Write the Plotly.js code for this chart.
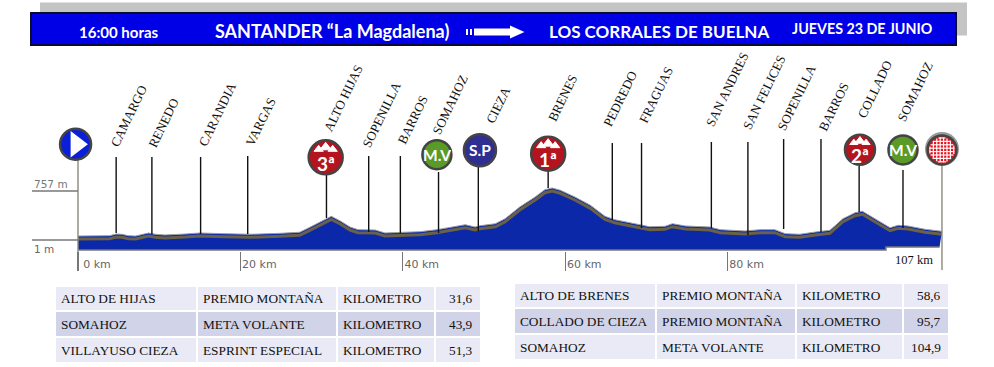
<!DOCTYPE html>
<html><head><meta charset="utf-8">
<script src="https://cdn.plot.ly/plotly-3.0.1.min.js"></script>
<style>html,body{margin:0;padding:0;background:#fff;overflow:hidden}#c{width:994px;height:367px}</style>
</head><body><div id="c"></div>
<script>
// ---------- data ----------
const profileKm = [0,2.7,3.9,4.7,5.4,6.2,7.1,8.0,8.7,9.5,10.7,13.2,15.0,18.1,21.2,24.9,27.3,28.3,29.4,30.4,31.2,32.3,33.5,34.5,36.6,37.8,39.7,42.1,44.2,45.8,47.7,48.9,49.5,51.4,52.6,54.4,56.3,57.5,58.4,59.4,61.2,63.1,64.9,66.1,68.0,69.8,70.4,72.3,73.2,74.8,77.8,79.1,82.1,84.0,85.8,87.1,88.9,90.8,92.6,94.2,95.7,96.6,98.2,100.0,101.0,102.2,104.3,106.4];
const profileM = [16,12,21,47,43,21,16,43,63,43,32,47,63,52,43,58,74,135,206,279,320,248,155,114,109,63,70,83,114,144,191,155,175,206,283,464,618,731,757,722,618,490,320,268,222,171,160,166,206,171,155,114,94,114,114,52,43,78,104,283,376,398,283,144,182,171,120,89];
const floorKm = [0,99.5,99.5,106.1];
const floorM = [-200,-200,-153,-153];
const townNames = ["CAMARGO","RENEDO","CARANDIA","VARGAS","ALTO HIJAS","SOPENILLA","BARROS","SOMAHOZ","CIEZA","BRENES","PEDREDO","FRAGUAS","SAN ANDRES","SAN FELICES","SOPENILLA","BARROS","COLLADO","SOMAHOZ"];
const townKm = [4.7,9.1,15.1,20.9,30.6,35.8,39.7,44.4,49.3,57.9,65.8,69.4,78.0,82.5,86.9,91.5,96.2,101.6];
const townTopM = [1282,1282,1282,1297,1004,1297,1297,1050,1143,1081,1498,1498,1513,1513,1559,1559,1143,1081];
const townFootM = [109,94,94,94,340,124,109,109,140,803,310,186,186,78,171,124,433,186];
const badgeKm = [-0.3,30.5,44.2,49.5,57.9,96.3,101.6,106.4];
const badgeM = [1478,1277,1317,1385,1333,1394,1390,1390];
const badgeText = ["","3ª","M.V","S.P","1ª","2ª","M.V",""];
const kmTicks = [0,20,40,60,80];
const kmLabels = ["0 km","20 km","40 km","60 km","80 km"];
const altLabels = ["1 m","757 m"];
const table1 = [
  ["ALTO DE HIJAS","PREMIO MONTAÑA","KILOMETRO","31,6"],
  ["SOMAHOZ","META VOLANTE","KILOMETRO","43,9"],
  ["VILLAYUSO CIEZA","ESPRINT ESPECIAL","KILOMETRO","51,3"]];
const table2 = [
  ["ALTO DE BRENES","PREMIO MONTAÑA","KILOMETRO","58,6"],
  ["COLLADO DE CIEZA","PREMIO MONTAÑA","KILOMETRO","95,7"],
  ["SOMAHOZ","META VOLANTE","KILOMETRO","104,9"]];

// ---------- page geometry ----------
const W = 994, H = 367;
const X0 = 78, PXKM = 8.12, Y0 = 240, MPX = 15.43;
const pxX = p => (p - X0) / PXKM;
const pxY = p => 1 + (Y0 - p) * MPX;
const nx = p => p / W, ny = p => 1 - p / H;
const SERIF = '"Liberation Serif", serif', SANS = 'Lato, "Open Sans", sans-serif';
const BLUE = '#0A28A8';

// ---------- traces ----------
const stemX = [], stemY = [];
townKm.forEach((k, i) => { stemX.push(k, k, null); stemY.push(townTopM[i], townFootM[i], null); });
const discColor = ['#0A1FD8','#B3141E','#5A9A28','#2E2F90','#B3141E','#B3141E','#5A9A28','#E8101E'];
const discSize = [31,34,29,32,34,30,29,29];
const base = {hoverinfo:'skip', showlegend:false};
const traces = [
  {...base, x: floorKm, y: floorM, mode:'lines', line:{color:'#777', width:1.5}},
  {...base, x: profileKm, y: profileM, mode:'lines', fill:'tonexty', fillcolor:BLUE, line:{color:'#A0A0A0', width:1}},
  {...base, x: profileKm, y: profileM, yaxis:'y2', mode:'lines', line:{color:'#6B6048', width:3}},
  {...base, x: stemX, y: stemY, yaxis:'y2', mode:'lines', line:{color:'#111', width:1.4}, connectgaps:false},
  {...base, x:[0,0,null,106.4,106.4], y:[pxY(160),pxY(270),null,pxY(160),pxY(270)], yaxis:'y2', mode:'lines', line:{color:'#8A8A80', width:1.4}},
  {...base, x:[106.4], y:[pxY(149)], yaxis:'y2', mode:'markers', marker:{size:34, color:'#999', opacity:1}},
  {...base, x: badgeKm, y: badgeM, yaxis:'y2', mode:'markers', marker:{size:discSize, color:discColor, opacity:1, line:{color:'#444', width:2.5}}},
  {...base, x:[badgeKm[0]+0.1], y:[badgeM[0]], yaxis:'y2', mode:'markers', marker:{symbol:'triangle-right', size:23, color:'#fff', opacity:1}}
];
// peak glyphs for the mountain badges
const peakX = [], peakY = [], peakS = [];
[1,4,5].forEach(i => {
  const bx = X0 + badgeKm[i]*PXKM, by = Y0 - (badgeM[i]-1)/MPX, k = i==5 ? 0.87 : 1;
  [[-7,-8,7],[0,-10,9],[7,-8,7]].forEach(o => { peakX.push(pxX(bx+o[0]*k)); peakY.push(pxY(by+o[1]*k)); peakS.push(o[2]*k+1); });
});
traces.push({...base, x:peakX, y:peakY, yaxis:'y2', mode:'markers', marker:{symbol:'triangle-up', size:peakS, color:'#fff', opacity:1}});

// ---------- layout ----------
const shapes = [
  {type:'rect',xref:'paper',yref:'paper',x0:nx(40),x1:nx(967),y0:ny(35.5),y1:ny(2.5),fillcolor:'#C4C4C4',line:{width:0},layer:'below'},
  {type:'rect',xref:'paper',yref:'paper',x0:nx(31),x1:nx(956),y0:ny(45),y1:ny(13),fillcolor:'#0000E6',line:{color:'#0A0A30',width:2},layer:'below'},
  {type:'rect',xref:'paper',yref:'paper',x0:nx(466),x1:nx(468),y0:ny(35),y1:ny(29),fillcolor:'#fff',line:{width:0}},
  {type:'rect',xref:'paper',yref:'paper',x0:nx(470),x1:nx(472),y0:ny(35),y1:ny(29),fillcolor:'#fff',line:{width:0}},
  {type:'rect',xref:'paper',yref:'paper',x0:nx(474),x1:nx(511),y0:ny(35.5),y1:ny(28.5),fillcolor:'#fff',line:{width:0}},
  {type:'path',xref:'paper',yref:'paper',path:`M ${nx(510)} ${ny(25.5)} L ${nx(524.5)} ${ny(32)} L ${nx(510)} ${ny(38.5)} Z`,fillcolor:'#fff',line:{width:0}},
  {type:'line',xref:'paper',yref:'paper',x0:nx(32),x1:nx(78),y0:ny(191),y1:ny(191),line:{color:'#777',width:1.3}},
  {type:'line',xref:'paper',yref:'paper',x0:nx(32),x1:nx(78),y0:ny(240),y1:ny(240),line:{color:'#777',width:1.3}}
];
// chequered finish badge
const fx = X0 + badgeKm[7]*PXKM, fy = Y0 - (badgeM[7]-1)/MPX, fr = 12.5;
for (let d = -12; d <= 12; d += 3.4) {
  const c = Math.sqrt(Math.max(0, fr*fr - d*d));
  shapes.push({type:'line',xref:'paper',yref:'paper',x0:nx(fx-c),x1:nx(fx+c),y0:ny(fy+d),y1:ny(fy+d),line:{color:'#fff',width:1.2}});
  shapes.push({type:'line',xref:'paper',yref:'paper',x0:nx(fx+d),x1:nx(fx+d),y0:ny(fy-c),y1:ny(fy+c),line:{color:'#fff',width:1.2}});
}

const labelAt = [[106,151],[144,151],[194,150],[241,149],[319,135],[358,151],[393,147],[428,138],[482,127],[544,125],[599,130],[635,127],[702,130],[739,133],[773,134],[814,134],[853,122],[893,125]];
const annotations = townNames.map((t,i)=>({
  text:t, xref:'paper', yref:'paper', x:nx(labelAt[i][0]), y:ny(labelAt[i][1]),
  xanchor:'left', yanchor:'bottom', textangle:-64, showarrow:false, borderpad:0,
  font:{family:SERIF,size:13,color:'#111'}
}));
function hdr(text,x,y,size){ annotations.push({text:text,xref:'paper',yref:'paper',x:nx(x),y:ny(y),xanchor:'left',yanchor:'middle',showarrow:false,borderpad:0,font:{family:SANS,size:size,color:'#fff',weight:700}}); }
hdr('16:00 horas',78,32,15);
hdr('SANTANDER “La Magdalena)',214,31.5,18);
hdr('LOS CORRALES DE BUELNA',548,31.5,17);
hdr('JUEVES 23 DE JUNIO',791,29,14.3);
badgeText.forEach((t,i)=>{ if(!t) return; const peak=t.includes('ª');
  annotations.push({text:t,xref:'x',yref:'y2',x:badgeKm[i],y:badgeM[i],yshift:peak?-6:0,showarrow:false,borderpad:0,font:{family:SANS,size:peak?19:15.5,color:'#fff',weight:700}});
});
annotations.push({text:altLabels[1],xref:'paper',yref:'paper',x:nx(33),y:ny(184),xanchor:'left',yanchor:'middle',showarrow:false,borderpad:0,font:{family:'"DejaVu Sans"',size:10.5,color:'#777'}});
annotations.push({text:altLabels[0],xref:'paper',yref:'paper',x:nx(33),y:ny(249),xanchor:'left',yanchor:'middle',showarrow:false,borderpad:0,font:{family:'"DejaVu Sans"',size:10.5,color:'#666'}});
annotations.push({text:'107 km',xref:'paper',yref:'paper',x:nx(894),y:ny(260),xanchor:'left',yanchor:'middle',showarrow:false,borderpad:0,font:{family:SERIF,size:12.5,color:'#111'}});

// tables: cells drawn from the table arrays
function drawTable(rows, cols, rowBox) {
  rows.forEach((row,r)=>{
    row.forEach((txt,c)=>{
      shapes.push({type:'rect',xref:'paper',yref:'paper',layer:'below',line:{width:0},
        x0:nx(cols[c][0]),x1:nx(cols[c][1]),y0:ny(rowBox[r][1]),y1:ny(rowBox[r][0]),
        fillcolor: r==1 ? '#D1D3E8' : '#E9EAF5'});
      const right = c==3;
      annotations.push({text:txt,xref:'paper',yref:'paper',showarrow:false,borderpad:0,
        x:nx(right?cols[c][1]-6:cols[c][0]+3.5),y:ny((rowBox[r][0]+rowBox[r][1])/2),
        xanchor:right?'right':'left',yanchor:'middle',font:{family:SERIF,size:13.3,color:'#111'}});
    });
  });
}
drawTable(table1,[[56,196],[198,336],[338,434],[436,480]],[[287,310],[312,336],[338,362]]);
drawTable(table2,[[515,655],[657,795],[797,902],[904,948]],[[284,307],[309,333],[335,359]]);

const layout = {
  width:W, height:H, margin:{l:0,r:0,t:0,b:0}, paper_bgcolor:'#fff', plot_bgcolor:'rgba(0,0,0,0)', showlegend:false,
  xaxis:{range:[pxX(0),pxX(W)], domain:[0,1], anchor:'free', position:ny(251), showgrid:false, zeroline:false, showline:false,
    tickmode:'array', tickvals:kmTicks, ticktext:kmLabels, ticks:'outside', ticklen:19, tickcolor:'#777', tickwidth:1.3,
    ticklabelshift:19, ticklabelstandoff:-16, tickfont:{family:'"DejaVu Sans"',size:11,color:'#666'}, fixedrange:true},
  yaxis:{range:[pxY(H+3),pxY(3)], domain:[0,1], visible:false, fixedrange:true},
  yaxis2:{range:[pxY(H),pxY(0)], domain:[0,1], overlaying:'y', visible:false, fixedrange:true},
  shapes:shapes, annotations:annotations
};
Plotly.newPlot('c', traces, layout, {displayModeBar:false, staticPlot:true});
</script></body></html>
